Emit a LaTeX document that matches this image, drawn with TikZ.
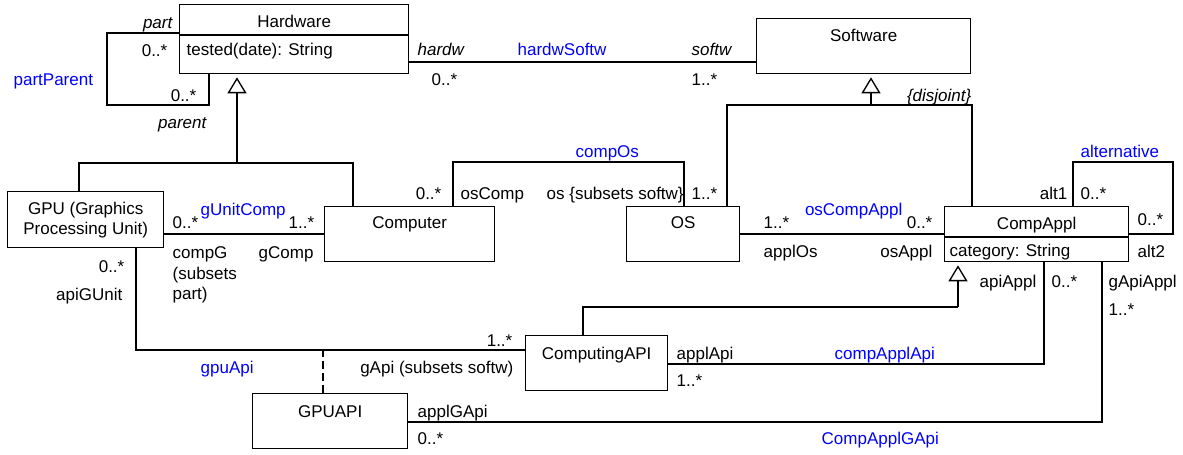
\documentclass[tikz,border=0pt]{standalone}
\usepackage{fontspec}
\setmainfont{Liberation Sans}
\usetikzlibrary{positioning,calc,arrows.meta}
\newlength\pu
\setlength\pu{0.6pt}

\begin{document}
\begin{tikzpicture}[x=0.6pt, y=-0.6pt, line width=0.8pt,
    every node/.style = {font=\fontsize{10.2pt}{12.3pt}\selectfont},
    classbox/.style 2 args = {draw, anchor=north west, inner sep=0pt, minimum width=#1\pu, minimum height=#2\pu},
    txt/.style = {inner sep=0pt, text height=7.3pt, text depth=0pt},
    role/.style = {txt, font=\fontsize{10.2pt}{12.3pt}\selectfont\itshape},
    assocname/.style = {txt, text=blue},
    gen/.style = {-{Triangle[open, length=9.6pt, width=11.4pt]}, shorten >=1.8pt},
    assocclass/.style = {dash pattern=on 4.8pt off 2.4pt}]
     \useasboundingbox (0,0) rectangle (1183,455);

     % classes
     \node[classbox={229}{69}] (hw) at (179,4) {};
     \node[classbox={214}{55}] (sw) at (756,18) {};
     \node[classbox={156}{56}] (gpu) at (7,191) {};
     \node[classbox={170}{55}] (comp) at (324,206) {};
     \node[classbox={113}{55}] (os) at (626,206) {};
     \node[classbox={184}{55}] (appl) at (944,206) {};
     \node[classbox={142}{55}] (capi) at (525,335) {};
     \node[classbox={155}{55}] (gapi) at (252,393) {};

     \draw ($(hw.north west)+(0,31)$) -- ($(hw.north east)+(0,31)$);
     \draw ($(appl.north west)+(0,31)$) -- ($(appl.north east)+(0,31)$);

     \node[txt] (hwName) at ($(hw.north)+(0,17)$) {Hardware};
     \node[txt, anchor=west] (hwAttr) at ($(hw.north west)+(7,45)$) {tested(date): String};
     \node[txt] (swName) at ($(sw.north)+(0,17)$) {Software};
     \node[align=center, inner sep=0pt] (gpuName) at ($(gpu.north)+(0,29)$) {GPU (Graphics\\Processing Unit)};
     \node[txt] (compName) at ($(comp.north)+(0,16)$) {Computer};
     \node[txt] (osName) at ($(os.north)+(0,16)$) {OS};
     \node[txt] (applName) at ($(appl.north)+(0,17)$) {CompAppl};
     \node[txt, anchor=west] (applAttr) at ($(appl.north west)+(5,44)$) {category: String};
     \node[txt] (capiName) at ($(capi.north)+(0,18)$) {ComputingAPI};
     \node[txt] (gapiName) at ($(gapi.north)+(0,18)$) {GPUAPI};

     % generalizations
     \coordinate (hwTree) at (237,163);
     \draw ($(gpu.north west)+(72,0)$) |- (hwTree) -| ($(comp.north west)+(29,0)$);
     \draw[gen] (hwTree) -- (hwTree |- hw.south);

     \coordinate (swTree) at (871,105);
     \draw ($(os.north west)+(101,0)$) |- (swTree) -| ($(appl.north west)+(28,0)$);
     \draw[gen] (swTree) -- (swTree |- sw.south);
     \node[role, anchor=east] (disj) at (972,95) {\{disjoint\}};

     \coordinate (applTree) at (958,307);
     \draw ($(capi.north west)+(58,0)$) |- (applTree);
     \draw[gen] (applTree) -- (applTree |- appl.south);

     % partParent
     \draw ($(hw.north west)+(0,29)$) -| (107,105) -| ($(hw.south west)+(30,0)$);
     \node[role, anchor=east] (partRole) at (173,22) {part};
     \node[txt, anchor=east] (partMult) at (168,50) {0..*};
     \node[assocname, anchor=west] (partParentName) at (13,79) {partParent};
     \node[txt, anchor=east] (parentMult) at (197,95) {0..*};
     \node[role, anchor=east] (parentRole) at (207,122) {parent};

     % hardwSoftw
     \draw ($(hw.north east)+(0,58)$) coordinate (hwA) -- (hwA -| sw.west);
     \node[role, anchor=west] (hardwRole) at (417,49) {hardw};
     \node[txt, anchor=west] (hardwMult) at (431,79) {0..*};
     \node[assocname, anchor=west] (hardwSoftwName) at (517,49) {hardwSoftw};
     \node[role, anchor=east] (softwRole) at (732,49) {softw};
     \node[txt, anchor=west] (softwMult) at (691,79) {1..*};

     % gUnitComp
     \draw (comp.west -| gpu.east) -- (comp.west);
     \node[txt, anchor=west] (compGMult) at (172,222) {0..*};
     \node[assocname, anchor=west] (gUnitCompName) at (200,209) {gUnitComp};
     \node[txt, anchor=west] (gCompMult) at (288,222) {1..*};
     \node[anchor=north west, inner sep=0pt, align=left] (compGRole) at (172,246) {compG\\(subsets\\part)};
     \node[txt, anchor=west] (gCompRole) at (258,252) {gComp};

     % compOs
     \draw ($(comp.north west)+(129,0)$) -- ++(0,-44) -| ($(os.north west)+(58,0)$);
     \node[assocname, anchor=west] (compOsName) at (575,151) {compOs};
     \node[txt, anchor=east] (osCompMult) at (442,193) {0..*};
     \node[txt, anchor=west] (osCompRole) at (460,193) {osComp};
     \node[txt, anchor=west] (osRole) at (546,193) {os \{subsets softw\}};
     \node[txt, anchor=west] (osMult) at (691,193) {1..*};

     % osCompAppl
     \draw (os.east) -- (os.east -| appl.west);
     \node[txt, anchor=west] (applOsMult) at (763,222) {1..*};
     \node[txt, anchor=west] (applOsRole) at (763,251) {applOs};
     \node[assocname, anchor=east] (osCompApplName) at (903,209) {osCompAppl};
     \node[txt, anchor=east] (osApplMult) at (933,222) {0..*};
     \node[txt, anchor=east] (osApplRole) at (933,251) {osAppl};

     % alternative
     \draw ($(appl.north west)+(129,0)$) -- ++(0,-44) -- ++(100,0) |- ($(appl.north east)+(0,28)$);
     \node[assocname, anchor=west] (altName) at (1080,151) {alternative};
     \node[txt, anchor=east] (alt1Role) at (1068,193) {alt1};
     \node[txt, anchor=west] (alt1Mult) at (1080,193) {0..*};
     \node[txt, anchor=west] (alt2Mult) at (1137,219) {0..*};
     \node[txt, anchor=west] (alt2Role) at (1137,251) {alt2};

     % gpuApi with its association class
     \coordinate (gpuApiEnd) at ($(capi.north west)+(0,15)$);
     \draw ($(gpu.south west)+(129,0)$) |- (gpuApiEnd);
     \draw[assocclass] ($(gapi.north west)+(71,0)$) coordinate (gaTop) -- (gaTop |- gpuApiEnd);
     \node[txt, anchor=east] (apiGUnitMult) at (125,266) {0..*};
     \node[txt, anchor=east] (apiGUnitRole) at (123,294) {apiGUnit};
     \node[txt, anchor=east] (gApiMult) at (513,340) {1..*};
     \node[assocname, anchor=west] (gpuApiName) at (200,367) {gpuApi};
     \node[txt, anchor=east] (gApiRole) at (514,367) {gApi (subsets softw)};

     % compApplApi
     \draw ($(capi.north east)+(0,29)$) -| ($(appl.south west)+(100,0)$);
     \node[txt, anchor=west] (applApiRole) at (676,353) {applApi};
     \node[txt, anchor=west] (applApiMult) at (676,380) {1..*};
     \node[assocname, anchor=west] (compApplApiName) at (834,353) {compApplApi};
     \node[txt, anchor=east] (apiApplRole) at (1037,281) {apiAppl};
     \node[txt, anchor=west] (apiApplMult) at (1051,281) {0..*};

     % CompApplGApi
     \draw ($(gapi.north east)+(0,29)$) -| ($(appl.south west)+(158,0)$);
     \node[txt, anchor=west] (applGApiRole) at (417,411) {applGApi};
     \node[txt, anchor=west] (applGApiMult) at (417,438) {0..*};
     \node[assocname, anchor=west] (compApplGApiName) at (821,438) {CompApplGApi};
     \node[txt, anchor=west] (gApiApplRole) at (1108,281) {gApiAppl};
     \node[txt, anchor=west] (gApiApplMult) at (1108,309) {1..*};
\end{tikzpicture}
\end{document}
